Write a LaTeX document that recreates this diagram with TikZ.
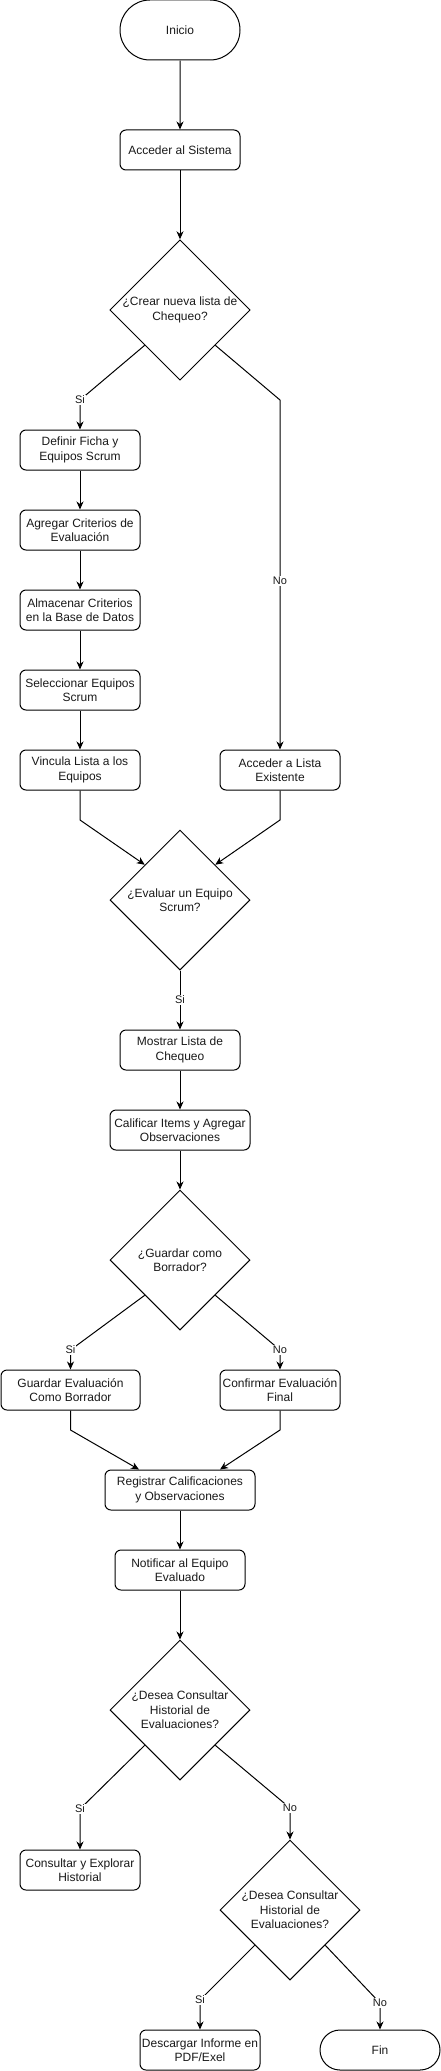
\documentclass[tikz,border=0pt]{standalone}
\usepackage{fontspec}
\setmainfont{Liberation Sans}
\usetikzlibrary{shapes.geometric,shapes.misc,arrows.meta,calc}
\begin{document}
\begin{tikzpicture}[x=1pt,y=-1pt,
 every node/.style={font=\fontsize{12}{14.5}\selectfont, text=black!90},
 proc/.style={draw, line width=1pt, rounded corners=6pt, minimum height=40pt, inner sep=0pt, align=center},
 term/.style={draw, line width=1pt, rounded rectangle, minimum width=120pt, inner sep=0pt, align=center},
 dec/.style={draw, line width=1pt, diamond, aspect=1, minimum width=140pt, minimum height=140pt, inner sep=0pt, align=center},
 arr/.style={draw, line width=1pt, -{Stealth[length=8pt,width=7pt,inset=2.5pt]}},
 lbl/.style={fill=white, inner sep=1pt, font=\fontsize{11}{13}\selectfont}
]
\useasboundingbox (0,0) rectangle (441,2071);

\node[term, minimum height=60pt] (ini) at (180,30) {Inicio};
\node[proc, minimum width=120pt] (acc) at (180,150) {Acceder al Sistema};
\node[dec] (d1) at (180,310) {¿Crear nueva lista de\\Chequeo?};
\node[proc, minimum width=120pt] (def) at (80,450) {Definir Ficha y\\Equipos Scrum};
\node[proc, minimum width=120pt] (agr) at (80,530) {Agregar Criterios de\\Evaluación};
\node[proc, minimum width=120pt] (alm) at (80,610) {Almacenar Criterios\\en la Base de Datos};
\node[proc, minimum width=120pt] (sel) at (80,690) {Seleccionar Equipos\\Scrum};
\node[proc, minimum width=120pt] (vin) at (80,770) {Vincula Lista a los\\Equipos};
\node[proc, minimum width=120pt] (ale) at (280,770) {Acceder a Lista\\Existente};
\node[dec] (d2) at (180,900) {¿Evaluar un Equipo\\Scrum?};
\node[proc, minimum width=120pt] (mos) at (180,1050) {Mostrar Lista de\\Chequeo};
\node[proc, minimum width=140pt] (cal) at (180,1130) {Calificar Items y Agregar\\Observaciones};
\node[dec] (d3) at (180,1260) {¿Guardar como\\Borrador?};
\node[proc, minimum width=139pt] (gua) at (70.5,1390) {Guardar Evaluación\\Como Borrador};
\node[proc, minimum width=120pt] (con) at (280,1390) {Confirmar Evaluación\\Final};
\node[proc, minimum width=150pt] (reg) at (180,1490) {Registrar Calificaciones\\y Observaciones};
\node[proc, minimum width=130pt] (not) at (180,1570) {Notificar al Equipo\\Evaluado};
\node[dec] (d4) at (180,1710) {¿Desea Consultar\\Historial de\\Evaluaciones?};
\node[proc, minimum width=120pt] (cex) at (80,1870) {Consultar y Explorar\\Historial};
\node[dec] (d5) at (290,1910) {¿Desea Consultar\\Historial de\\Evaluaciones?};
\node[proc, minimum width=120pt] (des) at (200,2050) {Descargar Informe en\\PDF/Exel};
\node[term, minimum height=40pt] (fin) at (380,2050) {Fin};

\draw[arr] (ini) -- (acc);
\draw[arr] (acc) -- (d1);
\draw[arr] (d1.south west) -- (80,400) node[lbl]{Si} -- (def.north);
\draw[arr] (d1.south east) -- (280,400) -- (ale.north);
\node[lbl] (nolbl) at (280,581) {No};
\draw[arr] (def) -- (agr);
\draw[arr] (agr) -- (alm);
\draw[arr] (alm) -- (sel);
\draw[arr] (sel) -- (vin);
\draw[arr] (vin.south) -- (80,820) -- (d2.north west);
\draw[arr] (ale.south) -- (280,820) -- (d2.north east);
\draw[arr] (d2.south) -- node[lbl]{Si} (mos.north);
\draw[arr] (mos) -- (cal);
\draw[arr] (cal) -- (d3);
\draw[arr] (d3.south west) -- (70.5,1350) node[lbl]{Si} -- (gua.north);
\draw[arr] (d3.south east) -- (280,1350) node[lbl]{No} -- (con.north);
\draw[arr] (gua.south) -- (70.5,1430) -- ($(reg.north)+(-41,0)$);
\draw[arr] (con.south) -- (280,1430) -- ($(reg.north)+(40,0)$);
\draw[arr] (reg) -- (not);
\draw[arr] (not) -- (d4);
\draw[arr] (d4.south west) -- (80,1809) node[lbl]{Si} -- (cex.north);
\draw[arr] (d4.south east) -- (290,1808) node[lbl]{No} -- (d5.north);
\draw[arr] (d5.south west) -- (200,2000) node[lbl]{Si} -- (des.north);
\draw[arr] (d5.south east) -- (380,2003) node[lbl]{No} -- (fin.north);
\end{tikzpicture}
\end{document}
